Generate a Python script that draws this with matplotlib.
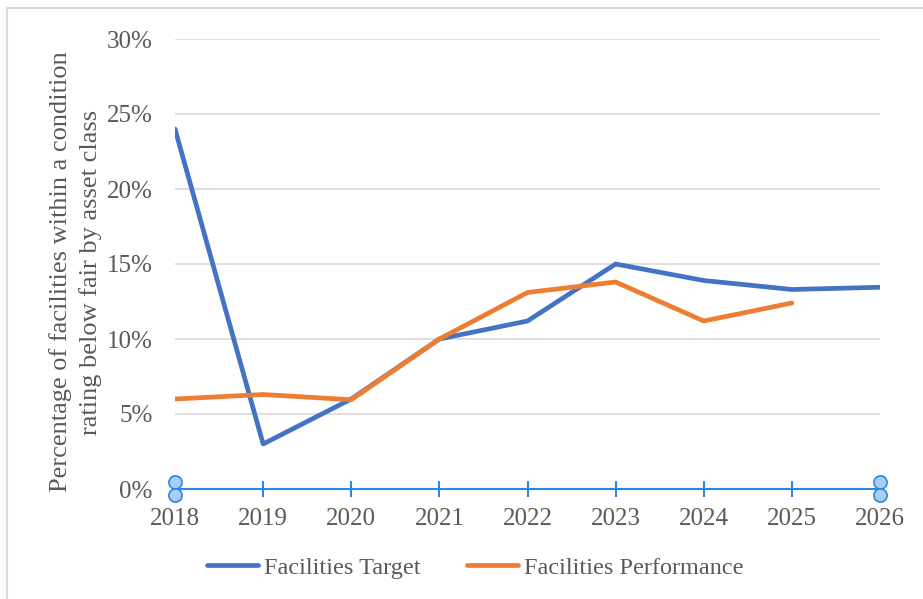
import matplotlib
matplotlib.use("Agg")
import matplotlib.pyplot as plt
from matplotlib.patches import Rectangle

years = [2018, 2019, 2020, 2021, 2022, 2023, 2024, 2025, 2026]
target = [24.0, 3.0, 6.0, 10.0, 11.2, 15.0, 13.9, 13.3, 13.45]
perf_years = [2018, 2019, 2020, 2021, 2022, 2023, 2024, 2025]
performance = [6.0, 6.3, 5.95, 10.0, 13.1, 13.8, 11.2, 12.4]
yticks = [0, 5, 10, 15, 20, 25, 30]

plt.rcParams['font.family'] = ['Liberation Serif', 'DejaVu Serif']
txt = '#595959'

fig = plt.figure(figsize=(9.23, 5.99), dpi=100)
ax = fig.add_axes([175/923, 1 - 489/599, 705/923, 450/599])

# outer frame of the chart area
fig.patches.append(Rectangle((7/923, -0.05), 1.0, 1.05 - 8/599, transform=fig.transFigure,
                             fill=False, edgecolor='#d9d9d9', linewidth=1.5))

ax.plot(years, target, color='#4472C4', linewidth=3.4, label='Facilities Target',
        solid_capstyle='round', solid_joinstyle='round', zorder=3)
ax.plot(perf_years, performance, color='#ED7D31', linewidth=3.4, label='Facilities Performance',
        solid_capstyle='round', solid_joinstyle='round', zorder=3)

ax.set_xlim(2018, 2026)
ax.set_ylim(0, 30)
ax.set_yticks(yticks)
ax.set_yticklabels([f'{v}%' for v in yticks])
ax.set_xticks(years)
ax.set_xticklabels([str(y) for y in years])

for v in yticks[1:]:
    ax.axhline(v, color='#d9d9d9', linewidth=1.2, zorder=1)

for s in ['top', 'right', 'left']:
    ax.spines[s].set_visible(False)
ax.spines['bottom'].set_color('#2a88e0')
ax.spines['bottom'].set_linewidth(1.5)
ax.tick_params(axis='x', direction='inout', length=12, width=1.5, color='#2a88e0',
               labelsize=18, labelcolor=txt, pad=8)
ax.tick_params(axis='y', length=0, labelsize=18, labelcolor=txt, pad=16)

# selection handles at the axis ends
for xv in [2018, 2026]:
    ax.plot([xv, xv], [0.5, -0.4], 'o', markersize=9.5, markerfacecolor='#a9cdf2',
            markeredgecolor='#2a88e0', markeredgewidth=1.2, clip_on=False, zorder=5)

ax.set_ylabel('Percentage of facilities within a condition\nrating below fair by asset class',
              fontsize=19, color=txt, linespacing=1.35)
ax.yaxis.set_label_coords(-0.104, 0.482)

leg = ax.legend(loc='center', bbox_to_anchor=(0.4255, -0.175), ncol=2, frameon=False,
                fontsize=17.5, handlelength=2.1, handletextpad=0.25, columnspacing=1.9)
for t in leg.get_texts():
    t.set_color(txt)

fig.savefig('out.png', dpi=100)
